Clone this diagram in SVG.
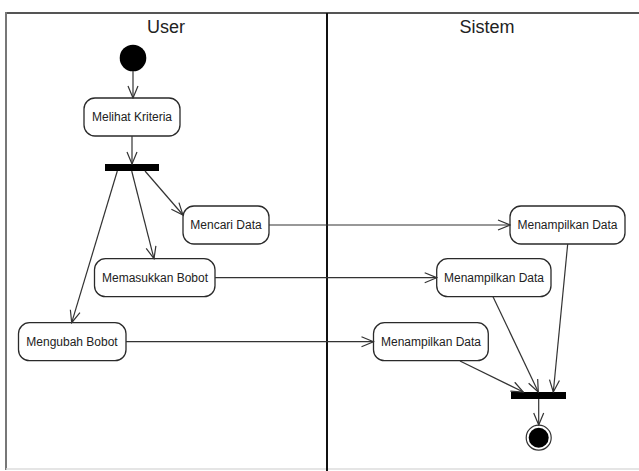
<svg xmlns="http://www.w3.org/2000/svg" width="639" height="471" viewBox="0 0 639 471">
  <style>
    .node rect { fill: #ffffff; stroke: #2a2a2a; stroke-width: 1.3; }
    .node text { font-family: "Liberation Sans", Arial, sans-serif; font-size: 12px; fill: #222222; text-anchor: middle; }
    .title { font-family: "Liberation Sans", Arial, sans-serif; font-size: 18px; fill: #222222; text-anchor: middle; }
    .conn line { stroke: #333333; stroke-width: 1.2; fill: none; marker-end: url(#arr); }
    .bar { fill: #000000; }
  </style>
  <defs>
    <marker id="arr" viewBox="0 0 14 12" refX="13" refY="6" markerWidth="14" markerHeight="12" markerUnits="userSpaceOnUse" orient="auto">
      <path d="M1,1 L13,6 L1,11" fill="none" stroke="#333333" stroke-width="1.2"/>
    </marker>
  </defs>
  <rect width="639" height="471" fill="#ffffff"/>
  <g id="frame">
    <line x1="5" y1="13" x2="639" y2="13" stroke="#555555" stroke-width="2"/>
    <line x1="6" y1="12" x2="6" y2="470" stroke="#777777" stroke-width="2"/>
    <line x1="6" y1="469" x2="639" y2="469" stroke="#dddddd" stroke-width="1.5"/>
    <line x1="327" y1="13" x2="327" y2="471" stroke="#111111" stroke-width="2"/>
    <text class="title" x="166" y="33">User</text>
    <text class="title" x="487" y="33">Sistem</text>
  </g>
  <g id="start"><circle cx="133" cy="58" r="13.3" fill="#000000"/></g>
  <g id="melihat" class="node"><rect x="84" y="98" width="96" height="38" rx="11"/><text x="132" y="121">Melihat Kriteria</text></g>
  <g id="fork"><rect class="bar" x="105" y="164" width="54" height="7"/></g>
  <g id="mencari" class="node"><rect x="183" y="206" width="86" height="38" rx="11"/><text x="226" y="229">Mencari Data</text></g>
  <g id="memasukkan" class="node"><rect x="94.5" y="258.7" width="120.5" height="38" rx="11"/><text x="155" y="282">Memasukkan Bobot</text></g>
  <g id="mengubah" class="node"><rect x="18.5" y="322.7" width="107.5" height="38" rx="11"/><text x="72" y="346">Mengubah Bobot</text></g>
  <g id="tampil1" class="node"><rect x="510" y="206" width="115" height="38" rx="11"/><text x="567.5" y="229">Menampilkan Data</text></g>
  <g id="tampil2" class="node"><rect x="436.7" y="258.7" width="114.3" height="38" rx="11"/><text x="494" y="282">Menampilkan Data</text></g>
  <g id="tampil3" class="node"><rect x="373.5" y="322.7" width="114.8" height="38" rx="11"/><text x="431" y="346">Menampilkan Data</text></g>
  <g id="join"><rect class="bar" x="511" y="392" width="55" height="7"/></g>
  <g id="end"><circle cx="538.7" cy="437.7" r="12.5" fill="#ffffff" stroke="#333333" stroke-width="1.2"/><circle cx="538.7" cy="437.7" r="10" fill="#000000"/></g>
  <g id="connectors" class="conn">
    <line x1="133" y1="71" x2="133" y2="98"/>
    <line x1="132" y1="136" x2="132" y2="164"/>
    <line x1="145" y1="171" x2="183" y2="215"/>
    <line x1="131.7" y1="171" x2="154" y2="258.7"/>
    <line x1="117.3" y1="171" x2="71.7" y2="322.7"/>
    <line x1="269" y1="225" x2="510" y2="225"/>
    <line x1="215" y1="277.7" x2="436.7" y2="277.7"/>
    <line x1="126" y1="341.7" x2="373.5" y2="341.7"/>
    <line x1="567.7" y1="244" x2="553.3" y2="392"/>
    <line x1="493" y1="296.7" x2="538.3" y2="392"/>
    <line x1="460" y1="361" x2="523.3" y2="392"/>
    <line x1="538.7" y1="399" x2="538.7" y2="425"/>
  </g>
</svg>
